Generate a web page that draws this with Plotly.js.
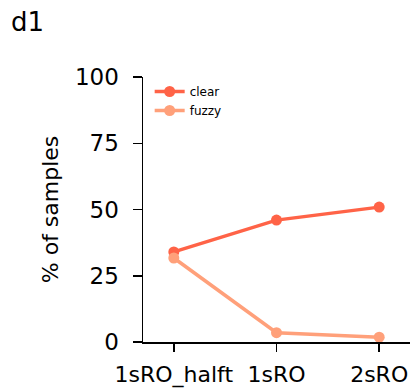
<!DOCTYPE html>
<html>
<head>
<meta charset="utf-8">
<script src="https://cdn.plot.ly/plotly-3.0.1.min.js"></script>
<style>html,body{margin:0;padding:0;background:#fff}#chart{width:410px;height:390px}</style>
</head>
<body>
<div id="chart"></div>
<script>
const categories = ["1sRO_halft", "1sRO", "2sRO"];
const clearValues = [34.0, 46.0, 50.9];
const fuzzyValues = [31.7, 3.5, 1.8];
const yTicks = [0, 25, 50, 75, 100];

const font = "DejaVu Sans, sans-serif";

const traces = [
  {
    x: categories, y: clearValues, name: "clear", type: "scatter", mode: "lines+markers",
    line: {color: "#ff6347", width: 3.5}, marker: {color: "#ff6347", size: 11}
  },
  {
    x: categories, y: fuzzyValues, name: "fuzzy", type: "scatter", mode: "lines+markers",
    line: {color: "#ffa07a", width: 3.5}, marker: {color: "#ffa07a", size: 11}
  }
];

const layout = {
  width: 410, height: 390,
  margin: {l: 143, r: 0, t: 77, b: 48},
  paper_bgcolor: "#fff", plot_bgcolor: "#fff",
  font: {family: font, color: "#000"},
  title: {text: "d1", font: {family: font, size: 26, color: "#000"},
          xref: "container", yref: "container", x: 0.027, xanchor: "left", y: 0.967, yanchor: "top"},
  showlegend: true,
  legend: {x: 0.025, y: 1.0, xanchor: "left", yanchor: "top", font: {family: font, size: 12},
           bgcolor: "rgba(0,0,0,0)", traceorder: "normal"},
  xaxis: {
    type: "category", range: [-0.3, 2.3], showgrid: false, zeroline: false,
    showline: true, linecolor: "#000", linewidth: 1.5,
    ticks: "outside", ticklen: 8, tickwidth: 1.5, tickcolor: "#000",
    ticklabelstandoff: 4,
    tickfont: {family: font, size: 22, color: "#000"}
  },
  yaxis: {
    range: [0, 100], tickvals: yTicks, ticktext: yTicks.map(String), showgrid: false, zeroline: false,
    showline: true, linecolor: "#000", linewidth: 1.5,
    ticks: "outside", ticklen: 9, tickwidth: 1.5, tickcolor: "#000",
    ticklabelstandoff: 9,
    tickfont: {family: font, size: 23, color: "#000"},
    title: {text: "% of samples", font: {family: font, size: 22, color: "#000"}, standoff: 10}
  }
};

Plotly.newPlot("chart", traces, layout, {displayModeBar: false, staticPlot: true});
</script>
</body>
</html>
